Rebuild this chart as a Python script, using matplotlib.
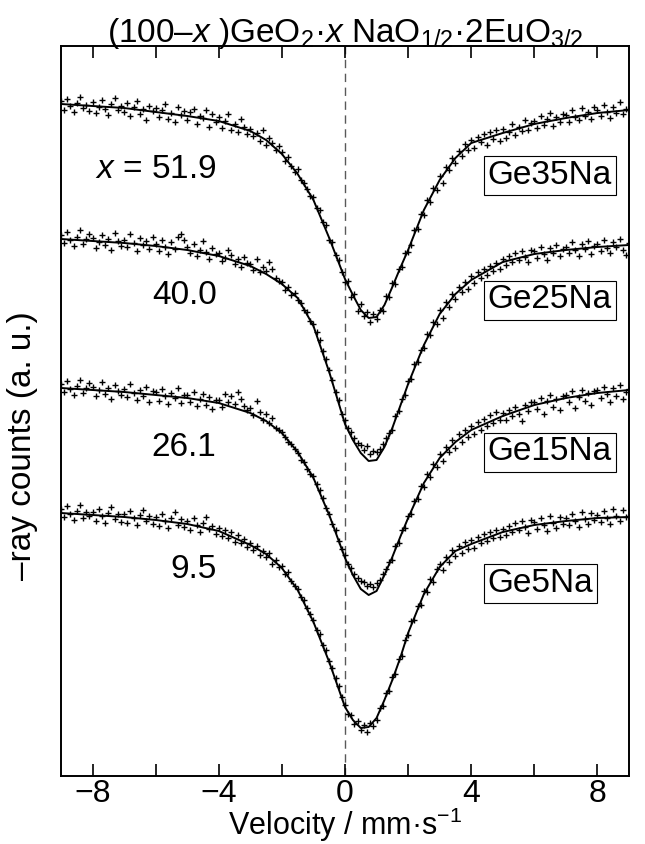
import numpy as np
import matplotlib.pyplot as plt

plt.rcParams['font.family'] = ['Liberation Sans', 'DejaVu Sans']
plt.rcParams['mathtext.fontset'] = 'custom'
plt.rcParams['mathtext.rm'] = 'Liberation Sans'
plt.rcParams['mathtext.it'] = 'Liberation Sans:italic'
plt.rcParams['mathtext.bf'] = 'Liberation Sans:bold'

# velocity channels, mm/s
velocity = np.linspace(-9, 9, 181)

# measured counts (a.u., spectra already offset)
ge35na_counts = [
    699, 690, 701, 694, 688, 697, 703, 692, 695, 689,
    698, 687, 693, 700, 691, 685, 696, 702, 690, 694,
    688, 697, 684, 693, 699, 686, 691, 680, 694, 689,
    692, 683, 690, 696, 681, 687, 678, 693, 685, 689,
    680, 688, 691, 676, 684, 682, 690, 673, 686, 678,
    683, 672, 679, 686, 670, 676, 668, 681, 673, 666,
    671, 664, 667, 659, 670, 655, 662, 657, 650, 654,
    648, 639, 643, 634, 628, 631, 620, 617, 611, 604,
    603, 592, 590, 578, 575, 560, 558, 545, 540, 528,
    518, 519, 503, 506, 489, 496, 484, 488, 478, 486,
    481, 490, 489, 504, 503, 517, 516, 531, 533, 547,
    548, 555, 570, 571, 586, 585, 600, 598, 612, 610,
    624, 617, 633, 630, 642, 637, 649, 644, 656, 650,
    660, 652, 663, 658, 666, 655, 668, 661, 670, 659,
    671, 662, 668, 676, 665, 673, 669, 680, 670, 677,
    679, 672, 684, 675, 681, 687, 674, 683, 678, 686,
    685, 678, 690, 683, 680, 692, 684, 688, 681, 693,
    690, 684, 695, 688, 682, 693, 687, 698, 686, 691,
    690]

ge25na_counts = [
    565, 557, 568, 560, 554, 563, 570, 556, 561, 566,
    562, 552, 558, 565, 555, 561, 550, 567, 559, 554,
    560, 553, 566, 557, 549, 562, 555, 559, 551, 563,
    556, 549, 560, 553, 546, 558, 551, 563, 566, 560,
    553, 547, 556, 544, 550, 559, 548, 541, 552, 546,
    547, 539, 542, 550, 545, 536, 541, 533, 543, 537,
    536, 530, 541, 528, 533, 529, 538, 531, 522, 519,
    518, 510, 513, 505, 507, 500, 497, 490, 488, 479,
    476, 468, 460, 449, 441, 430, 420, 408, 400, 386,
    380, 372, 368, 362, 357, 355, 350, 354, 346, 349,
    348, 351, 356, 362, 367, 370, 384, 389, 401, 405,
    419, 421, 436, 438, 450, 452, 466, 465, 478, 476,
    490, 482, 498, 493, 506, 501, 513, 508, 518, 511,
    524, 517, 528, 522, 531, 525, 534, 529, 537, 531,
    541, 535, 544, 538, 547, 540, 549, 543, 538, 550,
    549, 542, 553, 546, 540, 552, 547, 555, 544, 551,
    553, 547, 558, 550, 544, 556, 551, 559, 546, 554,
    556, 549, 560, 552, 547, 558, 553, 561, 550, 545,
    557]

ge15na_counts = [
    416, 408, 419, 411, 405, 414, 420, 407, 412, 417,
    413, 404, 410, 418, 406, 412, 401, 415, 409, 405,
    411, 403, 416, 407, 400, 410, 404, 413, 398, 409,
    408, 399, 411, 404, 396, 407, 402, 412, 397, 405,
    405, 398, 408, 394, 401, 406, 395, 403, 391, 400,
    400, 393, 406, 398, 404, 396, 408, 401, 394, 390,
    392, 385, 399, 388, 380, 386, 377, 382, 372, 370,
    368, 363, 358, 356, 351, 347, 340, 338, 331, 326,
    324, 316, 310, 302, 292, 286, 276, 270, 259, 251,
    245, 236, 232, 226, 222, 219, 218, 214, 216, 213,
    217, 220, 226, 231, 238, 240, 254, 257, 270, 272,
    284, 286, 299, 301, 314, 313, 326, 323, 336, 333,
    346, 339, 353, 348, 360, 352, 366, 358, 370, 363,
    374, 366, 378, 370, 381, 374, 385, 377, 388, 380,
    387, 380, 390, 384, 393, 386, 379, 395, 389, 398,
    398, 391, 402, 386, 399, 405, 393, 401, 390, 404,
    405, 398, 409, 392, 403, 410, 399, 407, 395, 409,
    410, 402, 413, 406, 398, 412, 404, 415, 401, 408,
    411]

ge5na_counts = [
    291, 283, 294, 286, 280, 289, 295, 282, 288, 284,
    288, 279, 291, 284, 277, 287, 293, 281, 286, 278,
    286, 277, 289, 282, 275, 285, 290, 279, 284, 276,
    283, 274, 286, 279, 272, 282, 288, 275, 281, 273,
    279, 270, 282, 275, 268, 277, 283, 271, 274, 266,
    272, 264, 270, 262, 268, 258, 265, 257, 261, 253,
    257, 250, 254, 245, 249, 243, 247, 236, 240, 233,
    234, 226, 228, 219, 214, 211, 203, 200, 192, 186,
    180, 170, 166, 155, 150, 139, 132, 122, 114, 103,
    95, 86, 85, 76, 79, 70, 75, 68, 77, 74,
    80, 92, 94, 107, 109, 123, 126, 141, 144, 160,
    165, 179, 180, 194, 195, 209, 208, 221, 218, 231,
    236, 230, 243, 238, 250, 244, 254, 247, 258, 251,
    260, 252, 263, 257, 266, 259, 268, 262, 270, 263,
    271, 265, 274, 268, 277, 270, 279, 273, 267, 280,
    278, 271, 282, 275, 269, 284, 277, 272, 283, 276,
    282, 275, 286, 279, 273, 288, 281, 276, 287, 280,
    285, 278, 289, 282, 276, 291, 284, 279, 290, 283,
    284]

# fitted curves
fit_velocity = [-9, -8, -7, -6, -5, -4, -3, -2.5, -2, -1.5, -1, -0.5, 0, 0.25, 0.5,
                0.75, 1.0, 1.25, 1.5, 1.75, 2.0, 2.5, 3, 3.5, 4, 5, 6, 7, 8, 9]
ge35na_fit = [696, 694, 692, 688, 684, 679, 669, 660, 646, 626, 600, 562, 521, 505, 490,
              482, 483, 495, 513, 532, 550, 590, 620, 642, 657, 667, 676, 682, 687, 690]
ge25na_fit = [561, 559, 557, 554, 550, 544, 534, 526, 516, 502, 474, 428, 376, 360, 347,
              339, 340, 353, 372, 394, 416, 455, 486, 506, 520, 538, 546, 550, 553, 555]
ge15na_fit = [412, 410, 408, 405, 402, 397, 387, 379, 367, 348, 322, 285, 242, 225, 211,
              205, 209, 225, 243, 263, 282, 317, 342, 358, 370, 384, 395, 402, 407, 410]
ge5na_fit = [287, 285, 283, 280, 276, 269, 255, 246, 232, 210, 178, 138, 93, 80, 72,
             73, 82, 100, 120, 142, 167, 206, 233, 249, 256, 268, 275, 279, 282, 283]

samples = ['Ge35Na', 'Ge25Na', 'Ge15Na', 'Ge5Na']
x_na = ['$x$ = 51.9', '40.0', '26.1', '9.5']
counts = [ge35na_counts, ge25na_counts, ge15na_counts, ge5na_counts]
fits = [ge35na_fit, ge25na_fit, ge15na_fit, ge5na_fit]

# label heights
x_label_y = [630, 505, 353, 230]
name_label_y = [625, 500, 348, 217]

fs = 24

fig = plt.figure(figsize=(6.45, 8.44), dpi=100)
ax = fig.add_axes([61/645, 68/844, 568/645, 730/844])

ax.axvline(0, color='0.35', lw=1.0, ls=(0, (6, 4)), zorder=1)

for i in range(4):
    ax.plot(velocity, counts[i], '+', color='black', ms=5, mew=1.0, zorder=2)
    ax.plot(fit_velocity, fits[i], color='black', lw=1.4, zorder=3)
    ax.text(-4.07, x_label_y[i], x_na[i], fontsize=fs, ha='right', va='center')
    ax.text(4.52, name_label_y[i], samples[i], fontsize=fs, ha='left', va='center',
            bbox=dict(boxstyle='square,pad=0.12', fc='white', ec='black', lw=0.8))

ax.set_xlim(-9, 9)
ax.set_ylim(24, 754)
ax.set_xticks(np.arange(-8, 9, 2))
ax.set_xticklabels(['\u22128', '', '\u22124', '', '0', '', '4', '', '8'])
ax.set_yticks([])
ax.tick_params(axis='x', direction='in', length=8.6, width=1.2, top=True,
               labelsize=23, pad=2)
for s in ax.spines.values():
    s.set_linewidth(1.4)

ax.set_xlabel('Velocity / mm\u00b7s$^{\u22121}$', fontsize=22, labelpad=-2)
ax.set_ylabel('\u2013ray counts (a. u.)', fontsize=fs)
ax.yaxis.set_label_coords(-0.04, 0.453)
ax.set_title('(100\u2013$x$ )GeO$_2$\u00b7$x$ NaO$_{1/2}$\u00b72EuO$_{3/2}$', fontsize=fs, pad=3)

fig.savefig('out.png', dpi=100)
